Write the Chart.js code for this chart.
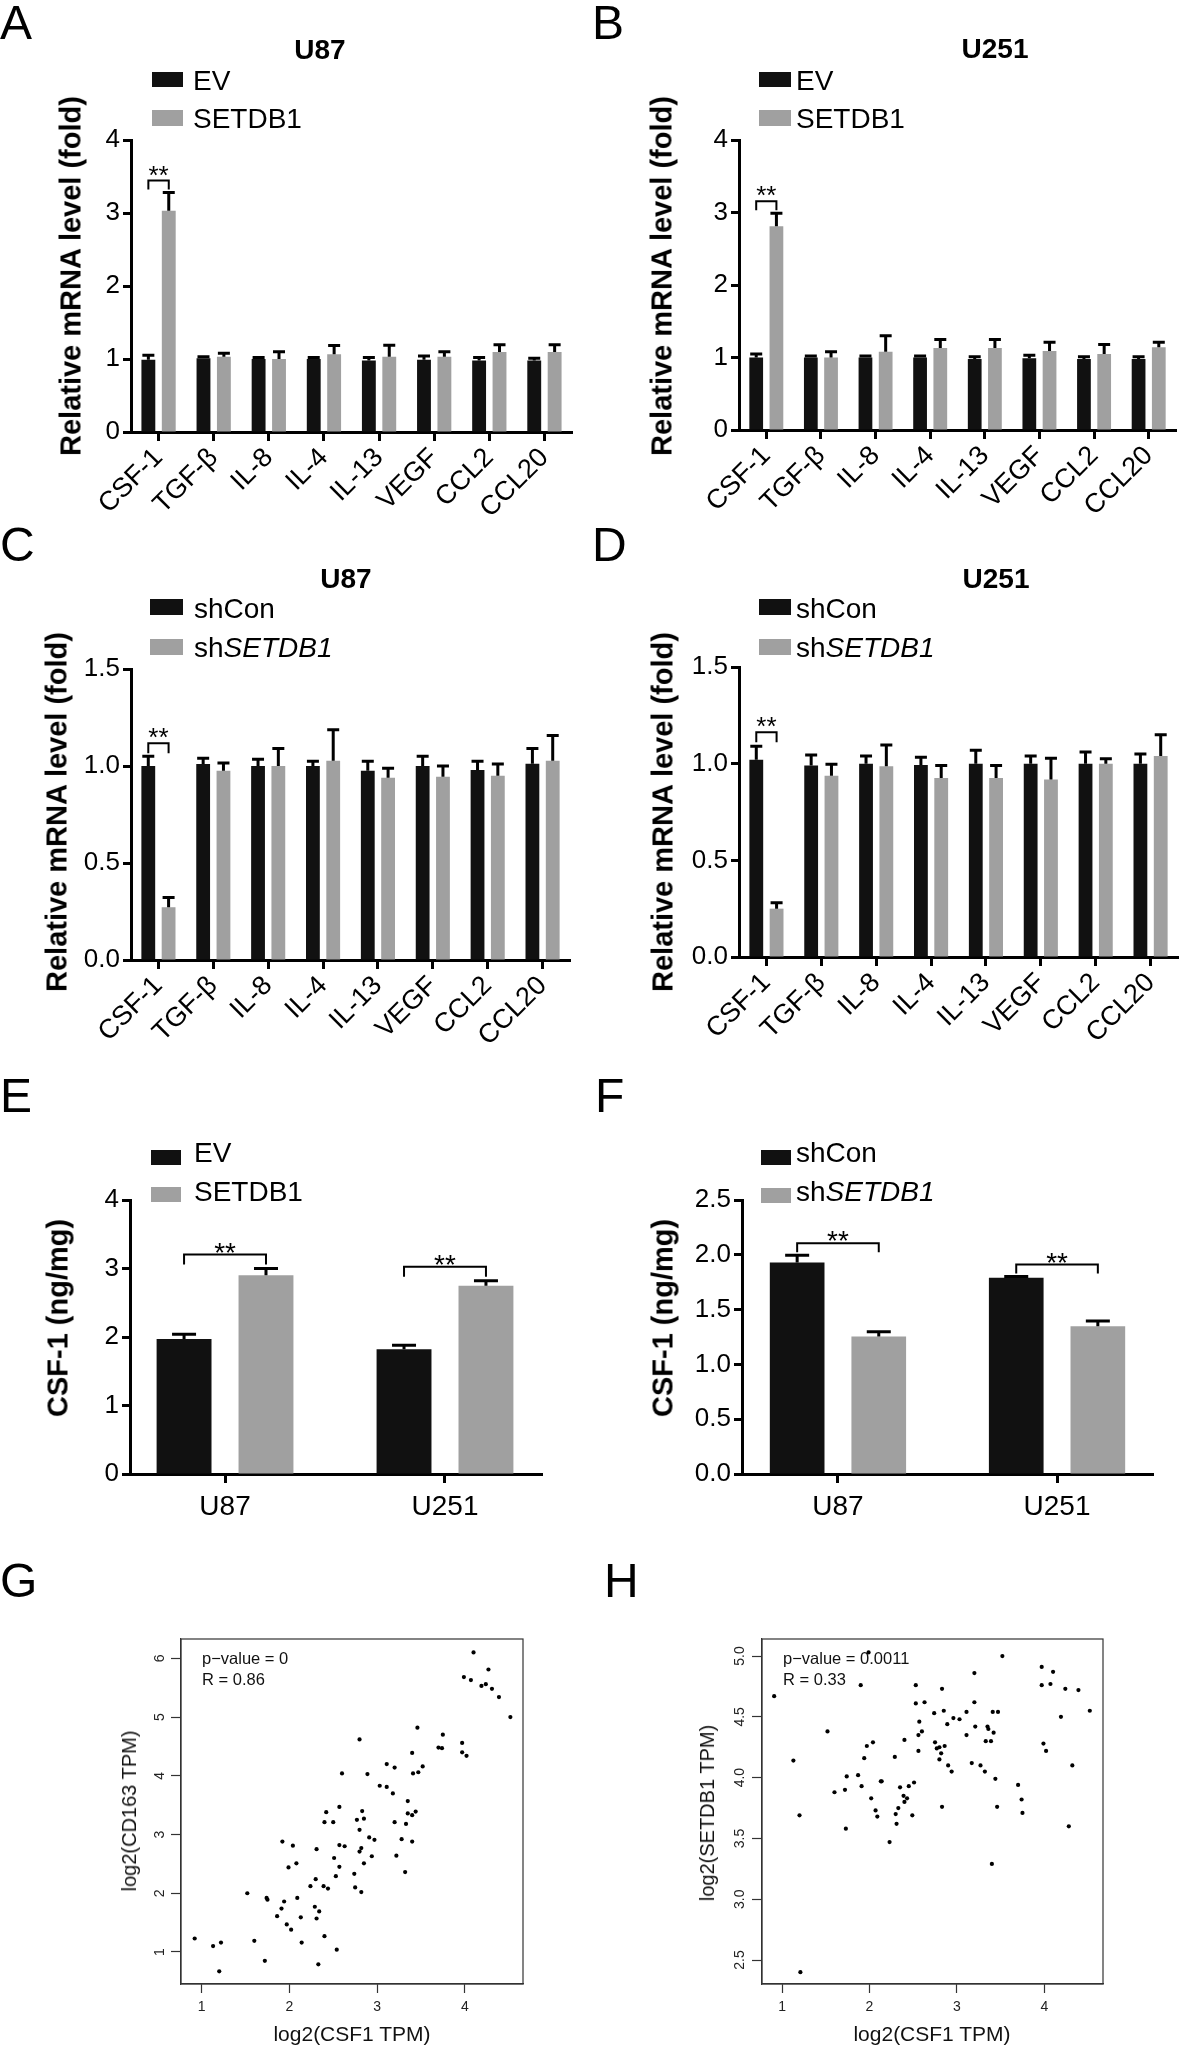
<!DOCTYPE html>
<html>
<head>
<meta charset="utf-8">
<script src="https://cdn.jsdelivr.net/npm/chart.js@4.4.1/dist/chart.umd.min.js"></script>
<style>
  html, body { margin: 0; padding: 0; background: #fff; }
  #fig { position: relative; width: 1181px; height: 2051px; overflow: hidden;
         font-family: 'Liberation Sans', Arial, Helvetica, sans-serif; color: #000; }
  #fig canvas { position: absolute; }
  .t { position: absolute; white-space: nowrap; line-height: 1; }
  .sw { position: absolute; }
</style>
</head>
<body>
<div id="fig"></div>
<script>
// ---------------- data ----------------
const genes = ['CSF-1', 'TGF-β', 'IL-8', 'IL-4', 'IL-13', 'VEGF', 'CCL2', 'CCL20'];
const cellLines = ['U87', 'U251'];

// A - U87 overexpression
const aEV     = [0.99, 1.01, 1.00, 1.00, 0.98, 0.99, 0.98, 0.98];
const aEVErr  = [0.06, 0.02, 0.02, 0.02, 0.04, 0.05, 0.04, 0.03];
const aSET    = [3.03, 1.03, 1.00, 1.065, 1.03, 1.03, 1.095, 1.095];
const aSETErr = [0.25, 0.05, 0.10, 0.12, 0.16, 0.07, 0.10, 0.10];

// B - U251 overexpression
const bEV     = [1.00, 1.00, 1.00, 1.00, 0.98, 0.99, 0.98, 0.98];
const bEVErr  = [0.05, 0.02, 0.02, 0.02, 0.03, 0.04, 0.03, 0.03];
const bSET    = [2.81, 1.00, 1.08, 1.13, 1.13, 1.09, 1.05, 1.14];
const bSETErr = [0.18, 0.08, 0.22, 0.12, 0.12, 0.12, 0.13, 0.07];

// C - U87 knockdown
const cCon    = [1.00, 1.01, 1.00, 1.00, 0.975, 1.00, 0.98, 1.012];
const cConErr = [0.05, 0.03, 0.035, 0.025, 0.05, 0.05, 0.045, 0.078];
const cSh     = [0.272, 0.975, 1.00, 1.027, 0.939, 0.944, 0.95, 1.027];
const cShErr  = [0.05, 0.04, 0.09, 0.16, 0.05, 0.056, 0.06, 0.13];

// D - U251 knockdown
const dCon    = [1.02, 0.99, 1.00, 0.993, 1.00, 1.00, 1.00, 1.00];
const dConErr = [0.07, 0.055, 0.04, 0.04, 0.07, 0.04, 0.06, 0.05];
const dSh     = [0.25, 0.937, 0.987, 0.926, 0.926, 0.918, 1.00, 1.04];
const dShErr  = [0.03, 0.06, 0.11, 0.065, 0.065, 0.11, 0.025, 0.11];

// E / F - CSF-1 protein
const eEV     = [1.97, 1.82];
const eEVErr  = [0.07, 0.06];
const eSET    = [2.90, 2.75];
const eSETErr = [0.10, 0.07];
const fCon    = [1.93, 1.79];
const fConErr = [0.065, 0.012];
const fSh     = [1.255, 1.347];
const fShErr  = [0.043, 0.05];

// y tick values / labels
const foldTicks4 = [0, 1, 2, 3, 4];
const foldLabels4 = ['0', '1', '2', '3', '4'];
const foldTicks15 = [0, 0.5, 1, 1.5];
const foldLabels15 = ['0.0', '0.5', '1.0', '1.5'];
const ngTicks4 = [0, 1, 2, 3, 4];
const ngLabels4 = ['0', '1', '2', '3', '4'];
const ngTicks25 = [0, 0.5, 1, 1.5, 2, 2.5];
const ngLabels25 = ['0.0', '0.5', '1.0', '1.5', '2.0', '2.5'];

// significance marks (category indexes)
const sigGenes = [0];
const sigCells = [0, 1];

// G - CSF1 vs CD163 (log2 TPM)
const gCSF1 = [0.92, 1.13, 1.22, 1.20, 1.52, 1.60, 1.72, 1.74, 1.75, 1.92, 1.94, 1.91, 1.86, 1.97, 2.02,
  1.99, 2.04, 2.08, 2.09, 2.13, 2.14, 2.24, 2.30, 2.31, 2.29, 2.34, 2.31, 2.33, 2.40, 2.39, 2.44, 2.40,
  2.42, 2.50, 2.51, 2.53, 2.54, 2.57, 2.57, 2.57, 2.63, 2.60, 2.74, 2.75, 2.77, 2.80, 2.80, 2.80, 2.82,
  2.83, 2.85, 2.85, 2.82, 2.89, 2.91, 2.94, 2.97, 3.03, 3.11, 3.11, 3.18, 3.20, 3.20, 3.22, 3.28, 3.32,
  3.33, 3.35, 3.35, 3.40, 3.44, 3.40, 3.40, 3.41, 3.47, 3.46, 3.52, 3.70, 3.74, 3.75, 3.97, 3.97, 4.02,
  3.99, 4.07, 4.10, 4.19, 4.24, 4.27, 4.31, 4.39, 4.52];
const gCD163 = [1.23, 1.10, 1.16, 0.67, 2.00, 1.19, 0.85, 1.92, 1.89, 2.88, 1.86, 1.74, 1.61, 1.47, 1.38,
  2.44, 2.81, 2.51, 1.92, 1.59, 1.16, 2.12, 2.24, 2.75, 1.77, 1.69, 1.57, 0.79, 1.27, 2.12, 2.08, 3.21,
  3.38, 3.21, 2.60, 2.29, 1.04, 2.45, 3.47, 2.82, 2.80, 4.04, 2.33, 2.10, 3.25, 4.62, 3.08, 2.71, 2.77,
  3.40, 3.27, 2.51, 2.02, 4.03, 2.95, 2.63, 2.91, 3.83, 4.20, 3.81, 3.70, 4.14, 3.21, 2.64, 2.92, 2.36,
  3.18, 3.57, 3.36, 3.33, 3.39, 2.88, 4.39, 4.04, 4.06, 4.82, 4.16, 4.48, 4.47, 4.70, 4.56, 4.40, 4.34,
  5.68, 5.63, 6.10, 5.53, 5.56, 5.81, 5.48, 5.34, 5.00];
const gXTicks = [1, 2, 3, 4];
const gXLabels = ['1', '2', '3', '4'];
const gYTicks = [1, 2, 3, 4, 5, 6];
const gYLabels = ['1', '2', '3', '4', '5', '6'];

// H - CSF1 vs SETDB1 (log2 TPM)
const hCSF1 = [0.91, 1.13, 1.20, 1.21, 1.52, 1.60, 1.72, 1.74, 1.73, 1.87, 1.90, 1.91, 1.94, 1.97, 2.02,
  2.04, 2.07, 2.09, 2.13, 2.14, 2.23, 2.29, 2.30, 2.31, 2.33, 2.35, 2.39, 2.40, 2.40, 2.43, 2.45, 2.49,
  2.51, 2.53, 2.53, 2.56, 2.56, 2.57, 2.60, 2.63, 2.74, 2.75, 2.77, 2.80, 2.80, 2.82, 2.83, 2.83, 2.85,
  2.86, 2.89, 2.90, 2.94, 2.96, 3.03, 3.11, 3.11, 3.17, 3.20, 3.20, 3.21, 3.27, 3.32, 3.33, 3.35, 3.36,
  3.39, 3.41, 3.42, 3.44, 3.40, 3.46, 3.47, 3.52, 3.70, 3.74, 3.75, 3.97, 3.97, 3.99, 4.02, 4.07, 4.10,
  4.19, 4.24, 4.28, 4.32, 4.39, 4.52, 1.99];
const hSETDB1 = [4.67, 4.14, 3.69, 2.40, 4.38, 3.88, 3.90, 4.01, 3.58, 4.02, 4.76, 3.93, 4.16, 4.26, 3.83,
  4.29, 3.73, 3.68, 3.97, 3.97, 3.47, 4.17, 3.70, 3.62, 3.75, 3.92, 3.85, 4.31, 3.80, 3.83, 3.93, 3.69,
  3.96, 4.76, 4.61, 4.22, 4.35, 4.46, 4.38, 4.62, 4.53, 4.29, 4.24, 4.25, 4.15, 4.20, 4.73, 3.76, 4.55,
  4.26, 4.44, 4.10, 4.05, 4.49, 4.48, 4.54, 4.35, 4.12, 4.86, 4.62, 4.42, 4.10, 4.05, 4.30, 4.42, 4.40,
  4.30, 4.54, 4.37, 3.99, 3.29, 3.76, 4.54, 5.00, 3.94, 3.82, 3.71, 4.91, 4.76, 4.28, 4.22, 4.77, 4.87,
  4.50, 4.73, 3.60, 4.10, 4.72, 4.55, 5.03];
const hXTicks = [1, 2, 3, 4];
const hXLabels = ['1', '2', '3', '4'];
const hYTicks = [2.5, 3.0, 3.5, 4.0, 4.5, 5.0];
const hYLabels = ['2.5', '3.0', '3.5', '4.0', '4.5', '5.0'];

// ---------------- helpers ----------------
const FONT = "'Liberation Sans', Arial, Helvetica, sans-serif";
const BLACK = '#111111';
const GREY = '#a0a0a0';
Chart.defaults.font.family = FONT;
Chart.defaults.color = '#000';

const fig = document.getElementById('fig');

function text(html, x, baseline, size, opt = {}) {
  const d = document.createElement('div');
  d.className = 't';
  d.innerHTML = html;
  d.style.fontSize = size + 'px';
  d.style.left = x + 'px';
  d.style.top = (baseline - 0.8465 * size) + 'px';
  if (opt.bold) d.style.fontWeight = 'bold';
  if (opt.center) d.style.transform = 'translateX(-50%)';
  if (opt.color) d.style.color = opt.color;
  fig.appendChild(d);
}

function vtext(html, cx, cy, size, opt = {}) {
  const d = document.createElement('div');
  d.className = 't';
  d.innerHTML = html;
  d.style.fontSize = size + 'px';
  d.style.left = cx + 'px';
  d.style.top = cy + 'px';
  d.style.transform = 'translate(-50%,-50%) rotate(-90deg)';
  if (opt.bold) d.style.fontWeight = 'bold';
  if (opt.color) d.style.color = opt.color;
  fig.appendChild(d);
}

function swatch(x, y, w, h, color) {
  const d = document.createElement('div');
  d.className = 'sw';
  Object.assign(d.style, { left: x + 'px', top: y + 'px', width: w + 'px', height: h + 'px', background: color });
  fig.appendChild(d);
}

function canvasAt(box) {
  const cv = document.createElement('canvas');
  cv.width = box.w; cv.height = box.h;
  cv.style.left = box.x + 'px'; cv.style.top = box.y + 'px';
  cv.style.width = box.w + 'px'; cv.style.height = box.h + 'px';
  fig.appendChild(cv);
  return cv;
}

const yValue = d => (typeof d === 'object' ? d.y : d);

// error bars (mean + SD, upward only)
const errBarPlugin = {
  id: 'errBars',
  afterDatasetsDraw(chart, args, opts) {
    const ctx = chart.ctx, ys = chart.scales.y;
    ctx.save();
    ctx.strokeStyle = '#000';
    ctx.lineWidth = opts.width;
    chart.data.datasets.forEach((ds, i) => {
      chart.getDatasetMeta(i).data.forEach((bar, j) => {
        const top = ys.getPixelForValue(yValue(ds.data[j]) + ds.errors[j]);
        ctx.beginPath();
        ctx.moveTo(bar.x, bar.y);
        ctx.lineTo(bar.x, top);
        ctx.moveTo(bar.x - opts.cap / 2, top);
        ctx.lineTo(bar.x + opts.cap / 2, top);
        ctx.stroke();
      });
    });
    ctx.restore();
  }
};

// significance brackets
const sigPlugin = {
  id: 'sig',
  afterDatasetsDraw(chart, args, opts) {
    const ctx = chart.ctx, ys = chart.scales.y;
    const ds = chart.data.datasets;
    ctx.save();
    ctx.strokeStyle = '#000';
    ctx.fillStyle = '#000';
    ctx.lineWidth = 2;
    ctx.font = opts.size + 'px ' + FONT;
    ctx.textAlign = 'center';
    ctx.textBaseline = 'alphabetic';
    opts.cats.forEach(k => {
      const b0 = chart.getDatasetMeta(0).data[k];
      const b1 = chart.getDatasetMeta(1).data[k];
      const t0 = ys.getPixelForValue(yValue(ds[0].data[k]) + ds[0].errors[k]);
      const t1 = ys.getPixelForValue(yValue(ds[1].data[k]) + ds[1].errors[k]);
      const yb = Math.min(t0, t1) - opts.gap;
      ctx.beginPath();
      ctx.moveTo(b0.x, yb + opts.leg);
      ctx.lineTo(b0.x, yb);
      ctx.lineTo(b1.x, yb);
      ctx.lineTo(b1.x, yb + opts.leg);
      ctx.stroke();
      ctx.fillText(opts.label, (b0.x + b1.x) / 2, yb + opts.starDy);
    });
    ctx.restore();
  }
};

const framePlugin = {
  id: 'frame',
  afterDraw(chart) {
    const { ctx, chartArea: a } = chart;
    ctx.save();
    ctx.strokeStyle = '#333';
    ctx.lineWidth = 1.2;
    ctx.strokeRect(a.left, a.top, a.right - a.left, a.bottom - a.top);
    ctx.restore();
  }
};

function barPanel(p) {
  const cv = canvasAt(p.box);
  const linear = !!p.xRange;
  const pts = vals => (linear ? vals.map((v, i) => ({ x: i, y: v })) : vals);
  const xAxis = linear ? {
    type: 'linear', min: p.xRange[0], max: p.xRange[1], offset: false,
    afterBuildTicks: s => { s.ticks = p.labels.map((_, i) => ({ value: i })); },
    ticks: { callback: (v, i) => p.labels[i], font: { size: 28 }, color: '#000', padding: 7, maxRotation: 0, minRotation: 0 }
  } : {
    type: 'category', offset: true,
    ticks: { font: { size: 27 }, color: '#000', minRotation: 45, maxRotation: 45, autoSkip: false, padding: 1 }
  };
  Object.assign(xAxis, {
    grid: { display: true, offset: false, drawOnChartArea: false, drawTicks: true, tickLength: 9, tickWidth: 3, tickColor: '#000' },
    border: { display: true, color: '#000', width: 3 },
    afterFit: s => { s.height = p.box.y + p.box.h - p.area.b; }
  });
  new Chart(cv, {
    type: 'bar',
    data: {
      labels: linear ? undefined : p.labels,
      datasets: p.series.map(s => ({
        data: pts(s.values), errors: s.errors, backgroundColor: s.color, borderWidth: 0,
        categoryPercentage: p.catPct, barPercentage: p.barPct
      }))
    },
    options: {
      responsive: false, animation: false, events: [],
      layout: { padding: { left: 0, bottom: 0, top: p.area.t - p.box.y, right: p.box.x + p.box.w - p.area.r } },
      plugins: {
        legend: { display: false }, tooltip: { enabled: false },
        errBars: p.err, sig: p.sig
      },
      scales: {
        x: xAxis,
        y: {
          min: p.yTicks[0], max: p.yTicks[p.yTicks.length - 1],
          afterBuildTicks: s => { s.ticks = p.yTicks.map(v => ({ value: v })); },
          ticks: { callback: (v, i) => p.yLabels[i], font: { size: 26 }, color: '#000', padding: 3 },
          grid: { display: true, drawOnChartArea: false, drawTicks: true, tickLength: 8, tickWidth: 3, tickColor: '#000' },
          border: { display: true, color: '#000', width: 3 },
          afterFit: s => { s.width = p.area.l - p.box.x; }
        }
      }
    },
    plugins: [errBarPlugin, sigPlugin]
  });
}

function scatterPanel(p) {
  const cv = canvasAt(p.box);
  new Chart(cv, {
    type: 'scatter',
    data: { datasets: [{ data: p.xs.map((x, i) => ({ x, y: p.ys[i] })), pointRadius: 2.1, backgroundColor: '#000', borderWidth: 0 }] },
    options: {
      responsive: false, animation: false, events: [],
      layout: { padding: { left: 0, bottom: 0, top: p.area.t - p.box.y, right: p.box.x + p.box.w - p.area.r } },
      plugins: { legend: { display: false }, tooltip: { enabled: false } },
      scales: {
        x: {
          type: 'linear', min: p.xRange[0], max: p.xRange[1],
          afterBuildTicks: s => { s.ticks = p.xTicks.map(v => ({ value: v })); },
          ticks: { callback: (v, i) => p.xLabels[i], font: { size: 14 }, color: '#222', padding: 6 },
          grid: { drawOnChartArea: false, drawTicks: true, tickLength: 9, tickWidth: 1.2, tickColor: '#333' },
          border: { display: true, color: '#333', width: 1.2 },
          afterFit: s => { s.height = p.box.y + p.box.h - p.area.b; }
        },
        y: {
          type: 'linear', min: p.yRange[0], max: p.yRange[1],
          afterBuildTicks: s => { s.ticks = p.yTicks.map(v => ({ value: v })); },
          ticks: { callback: (v, i) => p.yLabels[i], font: { size: 14 }, color: '#222', padding: p.yPad,
                   minRotation: 90, maxRotation: 90, crossAlign: 'center' },
          grid: { drawOnChartArea: false, drawTicks: true, tickLength: 10, tickWidth: 1.2, tickColor: '#333' },
          border: { display: true, color: '#333', width: 1.2 },
          afterFit: s => { s.width = p.area.l - p.box.x; }
        }
      }
    },
    plugins: [framePlugin]
  });
}

// ---------------- panels ----------------
const errSmall = { width: 3, cap: 12 };
const errLarge = { width: 3, cap: 24 };

// A
barPanel({
  box: { x: 0, y: 0, w: 590, h: 560 }, area: { l: 131, t: 140, r: 572, b: 432 },
  labels: genes, catPct: 0.74, barPct: 0.68,
  series: [{ values: aEV, errors: aEVErr, color: BLACK }, { values: aSET, errors: aSETErr, color: GREY }],
  yTicks: foldTicks4, yLabels: foldLabels4, err: errSmall,
  sig: { cats: sigGenes, label: '**', gap: 12, leg: 9, size: 26, starDy: 3 }
});
text('A', 0, 40, 48);
text('U87', 320, 60, 28, { bold: true, center: true });
swatch(152, 72, 31, 15, BLACK); text('EV', 193, 91, 28);
swatch(152, 110, 31, 16, GREY); text('SETDB1', 193, 129, 28);
vtext('Relative mRNA level (fold)', 71, 276, 29, { bold: true });

// B
barPanel({
  box: { x: 590, y: 0, w: 591, h: 560 }, area: { l: 739, t: 140, r: 1176, b: 430 },
  labels: genes, catPct: 0.74, barPct: 0.68,
  series: [{ values: bEV, errors: bEVErr, color: BLACK }, { values: bSET, errors: bSETErr, color: GREY }],
  yTicks: foldTicks4, yLabels: foldLabels4, err: errSmall,
  sig: { cats: sigGenes, label: '**', gap: 12, leg: 9, size: 26, starDy: 3 }
});
text('B', 592, 40, 48);
text('U251', 995, 59, 28, { bold: true, center: true });
swatch(759, 72, 32, 15, BLACK); text('EV', 796, 91, 28);
swatch(759, 110, 32, 16, GREY); text('SETDB1', 796, 129, 28);
vtext('Relative mRNA level (fold)', 662, 276, 29, { bold: true });

// C
barPanel({
  box: { x: 0, y: 560, w: 590, h: 540 }, area: { l: 131, t: 669, r: 570, b: 960 },
  labels: genes, catPct: 0.74, barPct: 0.68,
  series: [{ values: cCon, errors: cConErr, color: BLACK }, { values: cSh, errors: cShErr, color: GREY }],
  yTicks: foldTicks15, yLabels: foldLabels15, err: errSmall,
  sig: { cats: sigGenes, label: '**', gap: 13, leg: 10, size: 26, starDy: 3 }
});
text('C', 0, 562, 48);
text('U87', 346, 589, 28, { bold: true, center: true });
swatch(150, 599, 33, 16, BLACK); text('shCon', 194, 619, 28);
swatch(150, 639, 33, 16, GREY); text('sh<i>SETDB1</i>', 194, 658, 28);
vtext('Relative mRNA level (fold)', 57, 812, 29, { bold: true });

// D
barPanel({
  box: { x: 590, y: 560, w: 591, h: 540 }, area: { l: 739, t: 667, r: 1178, b: 957 },
  labels: genes, catPct: 0.74, barPct: 0.68,
  series: [{ values: dCon, errors: dConErr, color: BLACK }, { values: dSh, errors: dShErr, color: GREY }],
  yTicks: foldTicks15, yLabels: foldLabels15, err: errSmall,
  sig: { cats: sigGenes, label: '**', gap: 14, leg: 10, size: 26, starDy: 3 }
});
text('D', 592, 562, 48);
text('U251', 996, 589, 28, { bold: true, center: true });
swatch(759, 599, 32, 16, BLACK); text('shCon', 796, 619, 28);
swatch(759, 639, 32, 16, GREY); text('sh<i>SETDB1</i>', 796, 658, 28);
vtext('Relative mRNA level (fold)', 663, 812, 29, { bold: true });

// E
barPanel({
  box: { x: 0, y: 1130, w: 590, h: 420 }, area: { l: 130, t: 1200, r: 542, b: 1474 },
  labels: cellLines, xRange: [-0.432, 1.441], catPct: 0.745, barPct: 0.67,
  series: [{ values: eEV, errors: eEVErr, color: BLACK }, { values: eSET, errors: eSETErr, color: GREY }],
  yTicks: ngTicks4, yLabels: ngLabels4, err: errLarge,
  sig: { cats: sigCells, label: '**', gap: 14, leg: 10, size: 28, starDy: 7 }
});
text('E', 0, 1113, 48);
swatch(151, 1150, 30, 15, BLACK); text('EV', 194, 1163, 28);
swatch(151, 1187, 30, 15, GREY); text('SETDB1', 194, 1202, 28);
vtext('CSF-1 (ng/mg)', 58, 1318, 29, { bold: true });

// F
barPanel({
  box: { x: 590, y: 1130, w: 591, h: 420 }, area: { l: 742, t: 1200, r: 1153, b: 1474 },
  labels: cellLines, xRange: [-0.438, 1.438], catPct: 0.745, barPct: 0.67,
  series: [{ values: fCon, errors: fConErr, color: BLACK }, { values: fSh, errors: fShErr, color: GREY }],
  yTicks: ngTicks25, yLabels: ngLabels25, err: errLarge,
  sig: { cats: sigCells, label: '**', gap: 12, leg: 9, size: 28, starDy: 7 }
});
text('F', 595, 1113, 48);
swatch(761, 1150, 30, 15, BLACK); text('shCon', 796, 1163, 28);
swatch(761, 1188, 30, 15, GREY); text('sh<i>SETDB1</i>', 796, 1202, 28);
vtext('CSF-1 (ng/mg)', 663, 1318, 29, { bold: true });

// G
scatterPanel({
  box: { x: 0, y: 1600, w: 590, h: 451 }, area: { l: 181, t: 1639, r: 523, b: 1984 },
  xs: gCSF1, ys: gCD163, xRange: [0.764, 4.664], yRange: [0.455, 6.329],
  xTicks: gXTicks, xLabels: gXLabels, yTicks: gYTicks, yLabels: gYLabels, yPad: 7
});
text('G', 0, 1598, 48);
text('p\u2212value = 0', 202, 1664, 16.5, { color: '#111' });
text('R = 0.86', 202, 1685, 16.5, { color: '#111' });
vtext('log2(CD163 TPM)', 129, 1811, 20, { color: '#111' });
text('log2(CSF1 TPM)', 352, 2041, 21, { center: true, color: '#111' });

// H
scatterPanel({
  box: { x: 590, y: 1600, w: 591, h: 451 }, area: { l: 762, t: 1639, r: 1103, b: 1984 },
  xs: hCSF1, ys: hSETDB1, xRange: [0.771, 4.671], yRange: [2.303, 5.14],
  xTicks: hXTicks, xLabels: hXLabels, yTicks: hYTicks, yLabels: hYLabels, yPad: 2
});
text('H', 604, 1598, 48);
text('p\u2212value = 0.0011', 783, 1664, 16.5, { color: '#111' });
text('R = 0.33', 783, 1685, 16.5, { color: '#111' });
vtext('log2(SETDB1 TPM)', 707, 1813, 20, { color: '#111' });
text('log2(CSF1 TPM)', 932, 2041, 21, { center: true, color: '#111' });
</script>
</body>
</html>
